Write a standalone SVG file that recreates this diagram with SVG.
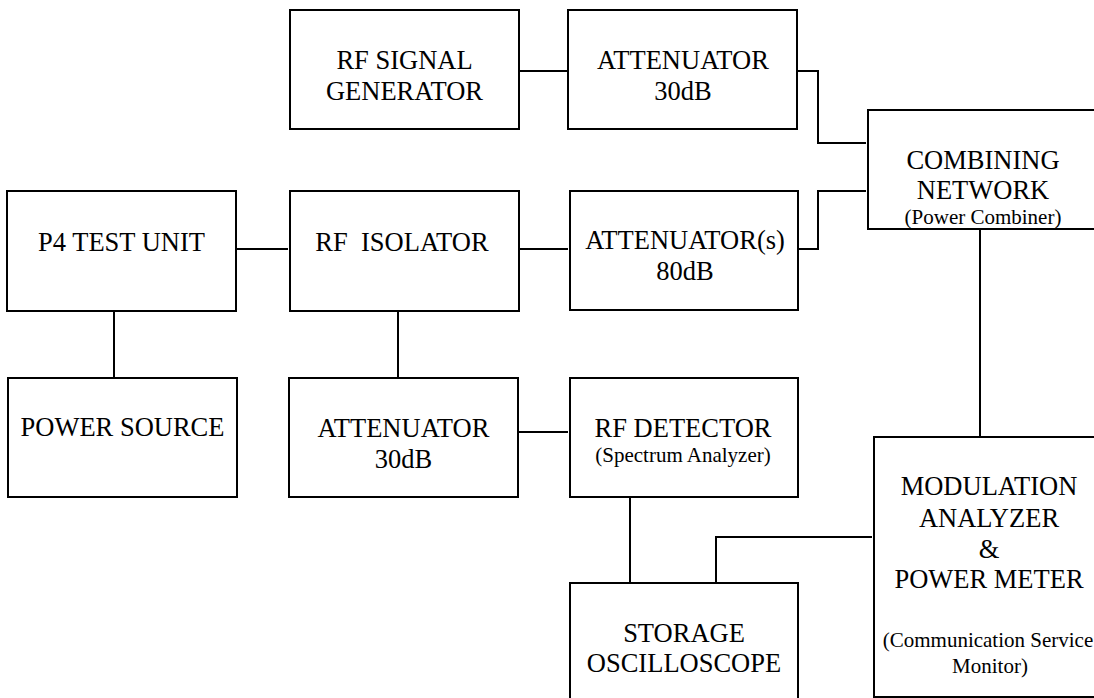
<svg xmlns="http://www.w3.org/2000/svg" width="1094" height="698" viewBox="0 0 1094 698" font-family="'Liberation Serif', Tinos, 'Times New Roman', Times, 'DejaVu Serif', serif">
<style>
.box{fill:#fff;stroke:#000;stroke-width:2}
.c{fill:none;stroke:#000;stroke-width:2}
text{fill:#000;text-anchor:middle}
.t{font-size:26.5px}
.s{font-size:21px}
</style>
<rect width="1094" height="698" fill="#fff"/>
<g id="connectors">
<path class="c" d="M513,71 H567"/>
<path class="c" d="M793,71 H818 V143 H866"/>
<path class="c" d="M795,249 H818 V191 H866"/>
<path class="c" d="M232,249 H288"/>
<path class="c" d="M513,249 H568"/>
<path class="c" d="M114,311 V379"/>
<path class="c" d="M398,311 V379"/>
<path class="c" d="M513,432 H568"/>
<path class="c" d="M630,497 V583"/>
<path class="c" d="M716,583 V537 H872"/>
<path class="c" d="M980,229 V437"/>
</g>
<g id="rf-signal-generator">
<rect class="box" x="290" y="10" width="229" height="119"/>
<text class="t" x="404.5" y="69">RF SIGNAL</text>
<text class="t" x="404.5" y="100">GENERATOR</text>
</g>
<g id="attenuator-30db-top">
<rect class="box" x="568" y="10" width="229" height="119"/>
<text class="t" x="683" y="69">ATTENUATOR</text>
<text class="t" x="683" y="100">30dB</text>
</g>
<g id="combining-network">
<rect class="box" x="868" y="110" width="240" height="119"/>
<text class="t" x="983" y="169">COMBINING</text>
<text class="t" x="983" y="199">NETWORK</text>
<text class="s" x="983" y="224">(Power Combiner)</text>
</g>
<g id="p4-test-unit">
<rect class="box" x="7" y="191" width="229" height="120"/>
<text class="t" x="121.5" y="251">P4 TEST UNIT</text>
</g>
<g id="rf-isolator">
<rect class="box" x="290" y="191" width="229" height="120"/>
<text class="t" x="402" y="251" xml:space="preserve">RF  ISOLATOR</text>
</g>
<g id="attenuators-80db">
<rect class="box" x="570" y="191" width="228" height="119"/>
<text class="t" x="685" y="249">ATTENUATOR(s)</text>
<text class="t" x="685" y="280">80dB</text>
</g>
<g id="power-source">
<rect class="box" x="8" y="378" width="229" height="119"/>
<text class="t" x="122.5" y="436">POWER SOURCE</text>
</g>
<g id="attenuator-30db-bottom">
<rect class="box" x="289" y="378" width="229" height="119"/>
<text class="t" x="403.5" y="437">ATTENUATOR</text>
<text class="t" x="403.5" y="468">30dB</text>
</g>
<g id="rf-detector">
<rect class="box" x="570" y="378" width="228" height="119"/>
<text class="t" x="683" y="437">RF DETECTOR</text>
<text class="s" x="683" y="462">(Spectrum Analyzer)</text>
</g>
<g id="storage-oscilloscope">
<rect class="box" x="570" y="583" width="228" height="130"/>
<text class="t" x="684" y="642">STORAGE</text>
<text class="t" x="684" y="672">OSCILLOSCOPE</text>
</g>
<g id="modulation-analyzer">
<rect class="box" x="874" y="437" width="240" height="260"/>
<text class="t" x="989" y="495">MODULATION</text>
<text class="t" x="989" y="527">ANALYZER</text>
<text class="t" x="989" y="558">&amp;</text>
<text class="t" x="989" y="588">POWER METER</text>
<text class="s" x="988" y="647">(Communication Service</text>
<text class="s" x="990" y="673">Monitor)</text>
</g>
</svg>
